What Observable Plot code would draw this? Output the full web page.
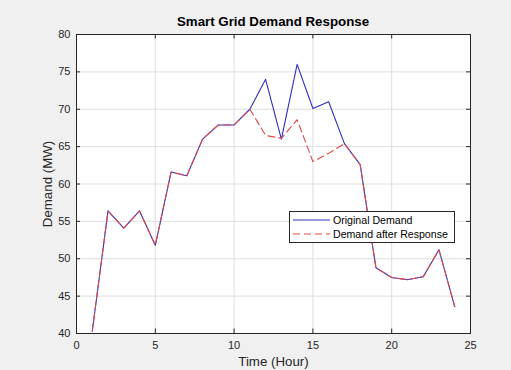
<!DOCTYPE html>
<html>
<head>
<meta charset="utf-8">
<script src="https://cdn.jsdelivr.net/npm/d3@7"></script>
<script src="https://cdn.jsdelivr.net/npm/@observablehq/plot@0.6"></script>
<style>
  html, body { margin: 0; padding: 0; background: #f0f0f0; }
  #wrap { position: relative; width: 511px; height: 370px; font-family: "Liberation Sans", Arial, sans-serif; }
  #title { position: absolute; left: 76px; width: 394px; top: 14px; text-align: center; font-weight: bold; font-size: 13.3px; color: #000; }
  #legend { position: absolute; left: 289px; top: 211px; width: 164px; height: 30px; background: #fff; border: 1px solid #262626; font-size: 10.6px; color: #000; }
  #legend .row { position: absolute; left: 3px; height: 14px; display: flex; align-items: center; }
  #legend svg { margin-right: 3px; }
</style>
</head>
<body>
<div id="wrap">
  <div id="chart"></div>
  <div id="title">Smart Grid Demand Response</div>
  <div id="legend"></div>
</div>
<script>
const hours = [1,2,3,4,5,6,7,8,9,10,11,12,13,14,15,16,17,18,19,20,21,22,23,24];
const originalDemand = [40.3,56.4,54.1,56.4,51.8,61.6,61.1,66.0,67.9,67.9,70.0,74.0,66.0,76.0,70.1,71.0,65.4,62.6,48.8,47.5,47.2,47.6,51.2,43.6];
const responseDemand = [40.3,56.4,54.1,56.4,51.8,61.6,61.1,66.0,67.9,67.9,70.0,66.5,66.1,68.6,63.0,64.1,65.4,62.6,48.8,47.5,47.2,47.6,51.2,43.6];
const xTicks = [0,5,10,15,20,25];
const yTicks = [40,45,50,55,60,65,70,75,80];
const seriesNames = ["Original Demand", "Demand after Response"];
const blue = "#2e2ec4";
const red = "#e44848";

const orig = hours.map((h, i) => ({h, v: originalDemand[i]}));
const resp = hours.map((h, i) => ({h, v: responseDemand[i]}));

const tickLenX = 0.6;   // in y data units
const tickLenY = 0.25;  // in x data units

const plot = Plot.plot({
  width: 511,
  height: 370,
  marginLeft: 76,
  marginRight: 41,
  marginTop: 34,
  marginBottom: 37,
  style: {background: "transparent", fontFamily: "Liberation Sans, Arial, sans-serif", fontSize: "11px", color: "#262626"},
  x: {domain: [0, 25]},
  y: {domain: [40, 80]},
  marks: [
    Plot.frame({fill: "white", stroke: "none"}),
    Plot.ruleX(xTicks, {stroke: "#dedede", strokeWidth: 1}),
    Plot.ruleY(yTicks, {stroke: "#dedede", strokeWidth: 1}),
    Plot.axisX(xTicks, {tickSize: 0, tickPadding: 8, fontSize: 11, label: "Time (Hour)", labelAnchor: "center", labelOffset: 32, labelArrow: "none", fill: "#262626"}),
    Plot.axisY(yTicks, {tickSize: 0, tickPadding: 6, fontSize: 11, label: "Demand (MW)", labelAnchor: "center", labelOffset: 34, labelArrow: "none", fill: "#262626"}),
    Plot.ruleX(xTicks, {y1: 40, y2: 40 + tickLenX, stroke: "#262626"}),
    Plot.ruleX(xTicks, {y1: 80 - tickLenX, y2: 80, stroke: "#262626"}),
    Plot.ruleY(yTicks, {x1: 0, x2: tickLenY, stroke: "#262626"}),
    Plot.ruleY(yTicks, {x1: 25 - tickLenY, x2: 25, stroke: "#262626"}),
    Plot.line(orig, {x: "h", y: "v", stroke: blue, strokeWidth: 1.1}),
    Plot.line(resp, {x: "h", y: "v", stroke: red, strokeWidth: 1.1, strokeDasharray: "7,4"}),
    Plot.frame({stroke: "#262626", strokeWidth: 1})
  ]
});
plot.querySelectorAll("[aria-label='x-axis label'] text, [aria-label='y-axis label'] text").forEach(t => { t.style.fontSize = "13.3px"; t.setAttribute("fill", "#262626"); });
document.getElementById("chart").appendChild(plot);

const legend = document.getElementById("legend");
const styles = [{stroke: blue, dash: null}, {stroke: red, dash: "7,4"}];
seriesNames.forEach((name, i) => {
  const row = document.createElement("div");
  row.className = "row";
  row.style.top = (i === 0 ? 1 : 15) + "px";
  const s = d3.create("svg").attr("width", 37).attr("height", 10);
  s.append("line").attr("x1", 0).attr("x2", 37).attr("y1", 5).attr("y2", 5)
    .attr("stroke", styles[i].stroke).attr("stroke-width", 1.1)
    .attr("stroke-dasharray", styles[i].dash);
  row.appendChild(s.node());
  const span = document.createElement("span");
  span.textContent = name;
  row.appendChild(span);
  legend.appendChild(row);
});
</script>
</body>
</html>
